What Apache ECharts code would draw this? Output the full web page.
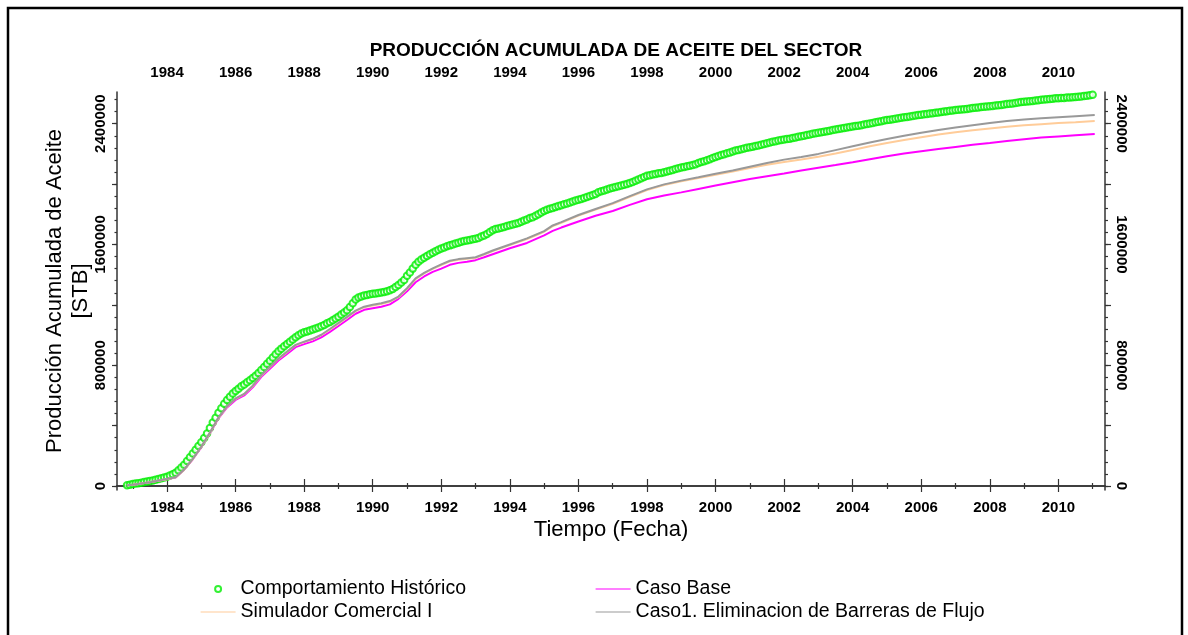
<!DOCTYPE html>
<html>
<head>
<meta charset="utf-8">
<title>Producción acumulada de aceite</title>
<script src="https://cdn.jsdelivr.net/npm/echarts@6/dist/echarts.min.js"></script>
<style>
  html, body { margin: 0; padding: 0; background: #fff; }
  #chart { width: 1188px; height: 635px; }
</style>
</head>
<body>
<div id="chart"></div>
<script>
// historico mensual (kSTB), empieza nov 1982
const histStart = 1982 + 10 / 12;
const historico = [
  5, 9,
  13, 16, 19, 22, 26, 29, 33, 37, 41, 46, 51, 56,
  62, 70, 78, 88, 105, 122, 140, 165, 190, 215, 240, 265,
  290, 318, 348, 385, 420, 452, 485, 515, 545, 570, 592, 612,
  630, 645, 660, 673, 688, 700, 715, 730, 748, 768, 789, 810,
  830, 852, 872, 892, 910, 925, 940, 955, 970, 985, 998, 1010,
  1018, 1024, 1030, 1036, 1043, 1050, 1058, 1066, 1078, 1087, 1098, 1110,
  1122, 1136, 1150, 1164, 1185, 1210, 1235, 1248, 1256, 1262, 1266, 1270,
  1273, 1276, 1279, 1282, 1285, 1290, 1296, 1305, 1318, 1332, 1348, 1365,
  1392, 1415, 1440, 1465, 1485, 1500, 1512, 1524, 1535, 1545, 1555, 1565,
  1573, 1580, 1588, 1594, 1600, 1606, 1612, 1618, 1623, 1627, 1630, 1634,
  1638, 1643, 1652, 1660, 1670, 1682, 1694, 1702, 1706, 1710, 1716, 1722,
  1728, 1733, 1737, 1742, 1750, 1758, 1766, 1775, 1781, 1790, 1800, 1812,
  1822, 1830, 1836, 1842, 1848, 1854, 1860, 1867, 1872, 1878, 1884, 1891,
  1897, 1902, 1908, 1914, 1921, 1928, 1935, 1946, 1952, 1958, 1964, 1970,
  1976, 1980, 1985, 1990, 1995, 2000, 2008, 2014, 2022, 2030, 2038, 2047,
  2055, 2059, 2063, 2067, 2071, 2074, 2078, 2083, 2088, 2094, 2100, 2105,
  2110, 2114, 2118, 2122, 2127, 2132, 2140, 2146, 2152, 2158, 2165, 2172,
  2180, 2186, 2192, 2198, 2204, 2210, 2216, 2222, 2226, 2231, 2236, 2240,
  2244, 2248, 2252, 2256, 2260, 2265, 2270, 2275, 2280, 2284, 2288, 2292,
  2295, 2298, 2301, 2305, 2309, 2313, 2317, 2321, 2325, 2329, 2333, 2337,
  2340, 2343, 2346, 2350, 2354, 2358, 2362, 2365, 2368, 2372, 2375, 2378,
  2381, 2384, 2387, 2390, 2394, 2398, 2402, 2405, 2409, 2413, 2417, 2421,
  2424, 2427, 2430, 2433, 2436, 2439, 2442, 2445, 2448, 2451, 2454, 2457,
  2460, 2463, 2465, 2468, 2470, 2473, 2475, 2478, 2480, 2483, 2485, 2488,
  2490, 2492, 2494, 2496, 2498, 2501, 2504, 2506, 2508, 2510, 2512, 2514,
  2516, 2518, 2520, 2522, 2524, 2527, 2530, 2532, 2534, 2537, 2540, 2543,
  2545, 2547, 2549, 2551, 2553, 2556, 2558, 2560, 2562, 2564, 2566, 2568,
  2569, 2570, 2571, 2573, 2574, 2575, 2577, 2579, 2581, 2583, 2585, 2588,
  2591
];

// fechas de las corridas de simulacion (años decimales)
const simYears = [
  1982.83, 1983.0, 1983.5, 1984.0, 1984.25, 1984.5, 1984.75,
  1985.0, 1985.25, 1985.5, 1985.75,
  1986.0, 1986.25, 1986.5, 1986.75,
  1987.0, 1987.25, 1987.5, 1987.75,
  1988.0, 1988.25, 1988.5, 1988.75,
  1989.0, 1989.25, 1989.5, 1989.75,
  1990.0, 1990.25, 1990.5, 1990.75,
  1991.0, 1991.25, 1991.5, 1991.75,
  1992.0, 1992.25, 1992.5, 1992.75,
  1993.0, 1993.25, 1993.5, 1993.75,
  1994.0, 1994.5, 1995.0, 1995.25, 1995.5,
  1996.0, 1996.5, 1997.0, 1997.5, 1998.0, 1998.5, 1999.0, 1999.5,
  2000.0, 2000.5, 2001.0, 2001.5, 2002.0, 2002.5, 2003.0, 2003.5,
  2004.0, 2004.5, 2005.0, 2005.5, 2006.0, 2006.5, 2007.0, 2007.5,
  2008.0, 2008.5, 2009.0, 2009.5, 2010.0, 2010.5, 2011.06
];

// kSTB
const casoBase = [
  5, 9, 25, 46, 57, 108, 177,
  258, 350, 448, 520,
  570, 600, 654, 723,
  777, 831, 875, 920,
  940, 958, 984, 1021,
  1060, 1100, 1141, 1167,
  1178, 1188, 1203, 1240,
  1290, 1350, 1388, 1418,
  1440, 1465, 1478, 1486,
  1496, 1515, 1535, 1555,
  1575, 1610, 1660, 1690, 1712,
  1752, 1790, 1822, 1862, 1900, 1925, 1945, 1968,
  1990, 2012, 2034, 2052, 2070, 2090, 2108, 2126,
  2145, 2165, 2185, 2203, 2218, 2232, 2246, 2260,
  2272, 2285, 2297, 2308, 2316, 2324, 2332
];

const simulador = [
  5, 9, 25, 45, 57, 108, 178,
  260, 352, 452, 526,
  578, 608, 662, 732,
  787, 842, 887, 932,
  953, 972, 999, 1036,
  1076, 1116, 1158, 1184,
  1196, 1206, 1221, 1251,
  1305, 1370, 1408, 1438,
  1464, 1488, 1499, 1505,
  1511, 1533, 1556, 1576,
  1596, 1636, 1684, 1722, 1744,
  1791, 1831, 1870, 1916, 1961, 1994, 2019, 2041,
  2062, 2084, 2106, 2128, 2146, 2163, 2181, 2203,
  2226, 2250, 2272, 2292, 2310, 2328, 2343, 2356,
  2368, 2380, 2389, 2397, 2404, 2410, 2418
];

const caso1 = [
  5, 9, 25, 46, 58, 110, 180,
  262, 355, 455, 528,
  580, 610, 665, 735,
  790, 845, 890, 935,
  956, 975, 1002, 1040,
  1080, 1120, 1162, 1188,
  1200, 1210, 1225, 1255,
  1310, 1375, 1412, 1442,
  1468, 1492, 1503, 1509,
  1515, 1537, 1560, 1580,
  1600, 1640, 1688, 1726, 1748,
  1795, 1835, 1874, 1920, 1965, 1998, 2023, 2045,
  2068, 2090, 2115, 2140, 2162, 2180, 2200, 2225,
  2250, 2275, 2298, 2320, 2340, 2358, 2375, 2390,
  2405, 2418, 2428, 2436, 2443, 2450, 2458
];

// ticks
const yearLabels = [1984, 1986, 1988, 1990, 1992, 1994, 1996, 1998, 2000, 2002, 2004, 2006, 2008, 2010];
const oddYears = [1983, 1985, 1987, 1989, 1991, 1993, 1995, 1997, 1999, 2001, 2003, 2005, 2007, 2009, 2011];
const yLabels = [0, 800000, 1600000, 2400000];
const yMajor = [0, 400000, 800000, 1200000, 1600000, 2000000, 2400000];

const xMin = 1982.54, xMax = 2011.36;
const yMin = -26500, yMax = 2610000;
const FONT = 'Liberation Sans, Arial, sans-serif';

let yMinor = [];
for (let v = 0; v <= 2560000; v += 80000) yMinor.push(v);

const toPairs = (xs, ys) => ys.map((v, i) => [xs[i], v * 1000]);
const histData = historico.map((v, i) => [histStart + i / 12, v * 1000]);

const lineCol = '#333';
const labelStyle = { fontFamily: FONT, fontSize: 15, fontWeight: 'bold', color: '#000' };

function xAxisCfg(pos, ticks, len, withLabels) {
  return {
    type: 'value', position: pos, min: xMin, max: xMax,
    splitLine: { show: false },
    axisLine: { show: withLabels, lineStyle: { color: lineCol, width: 1.5 } },
    axisTick: { show: true, customValues: ticks, length: len, lineStyle: { color: lineCol, width: 1.2 } },
    axisLabel: withLabels
      ? Object.assign({ show: true, customValues: ticks, margin: pos === 'top' ? 12 : 10, formatter: v => String(Math.round(v)) }, labelStyle)
      : { show: false }
  };
}

function yAxisCfg(pos, ticks, len, withLabels) {
  return {
    type: 'value', position: pos, min: yMin, max: yMax,
    splitLine: { show: false },
    axisLine: { show: withLabels, lineStyle: { color: lineCol, width: 1.5 } },
    axisTick: { show: true, customValues: ticks, length: len, lineStyle: { color: lineCol, width: 1.2 } },
    axisLabel: withLabels
      ? Object.assign({ show: true, customValues: yLabels, margin: 9, rotate: pos === 'left' ? 90 : -90, formatter: v => String(Math.round(v)) }, labelStyle)
      : { show: false }
  };
}

const chart = echarts.init(document.getElementById('chart'));

const xAxes = [
  xAxisCfg('bottom', yearLabels, 6, true),
  xAxisCfg('bottom', oddYears, 3, false),
  xAxisCfg('top', yearLabels, 7, true),
  xAxisCfg('top', oddYears, 3, false)
];
xAxes[0].name = 'Tiempo (Fecha)';
xAxes[0].nameLocation = 'middle';
xAxes[0].nameGap = 29;
xAxes[0].nameMoveOverlap = false;
xAxes[0].nameTextStyle = { fontFamily: FONT, fontSize: 22, color: '#000' };

const yAxes = [
  yAxisCfg('left', yMajor, 5, true),
  yAxisCfg('left', yMinor, 2.5, false),
  yAxisCfg('right', yMajor, 6, true),
  yAxisCfg('right', yMinor, 3, false)
];
yAxes[0].name = 'Producción Acumulada de Aceite\n[STB]';
yAxes[0].nameLocation = 'middle';
yAxes[0].nameRotate = 90;
yAxes[0].nameGap = 23;
yAxes[0].nameMoveOverlap = false;
yAxes[0].nameTextStyle = { fontFamily: FONT, fontSize: 22, color: '#000', lineHeight: 26, align: 'center' };

const legendBase = {
  orient: 'vertical', itemGap: 3, itemWidth: 35, itemHeight: 6,
  selectedMode: false,
  lineStyle: { width: 1.2 },
  textStyle: { fontFamily: FONT, fontSize: 19.5, color: '#000' }
};
// las entradas de linea sin simbolo
const lineItem = name => ({ name: name, itemStyle: { opacity: 0 } });

chart.setOption({
  animation: false,
  backgroundColor: '#fff',
  title: {
    text: 'PRODUCCIÓN ACUMULADA DE ACEITE DEL SECTOR',
    left: 611, top: 36, textAlign: 'center',
    textStyle: { fontFamily: FONT, fontSize: 19, fontWeight: 'bold', color: '#000' }
  },
  grid: { left: 117, right: 83, top: 92, bottom: 145 },
  legend: [
    Object.assign({ left: 195, top: 574, data: ['Comportamiento Histórico', lineItem('Simulador Comercial I')] }, legendBase),
    Object.assign({ left: 590, top: 574, data: [lineItem('Caso Base'), lineItem('Caso1. Eliminacion de Barreras de Flujo')] }, legendBase)
  ],
  xAxis: xAxes,
  yAxis: yAxes,
  graphic: [{
    type: 'rect', silent: true,
    shape: { x: 8, y: 8, width: 1174, height: 700 },
    style: { fill: 'none', stroke: '#000', lineWidth: 2.5 }
  }],
  series: [
    {
      name: 'Comportamiento Histórico', type: 'scatter',
      symbol: 'emptyCircle', symbolSize: 6.5,
      itemStyle: { color: '#00ee00', borderWidth: 0.9 },
      data: histData
    },
    {
      name: 'Caso Base', type: 'line', symbol: 'none',
      lineStyle: { color: '#ff00ff', width: 2 }, itemStyle: { color: '#ff00ff' },
      data: toPairs(simYears, casoBase)
    },
    {
      name: 'Simulador Comercial I', type: 'line', symbol: 'none',
      lineStyle: { color: '#ffcc99', width: 2 }, itemStyle: { color: '#ffcc99' },
      data: toPairs(simYears, simulador)
    },
    {
      name: 'Caso1. Eliminacion de Barreras de Flujo', type: 'line', symbol: 'none',
      lineStyle: { color: '#999999', width: 2 }, itemStyle: { color: '#999999' },
      data: toPairs(simYears, caso1)
    }
  ]
});
</script>
</body>
</html>
